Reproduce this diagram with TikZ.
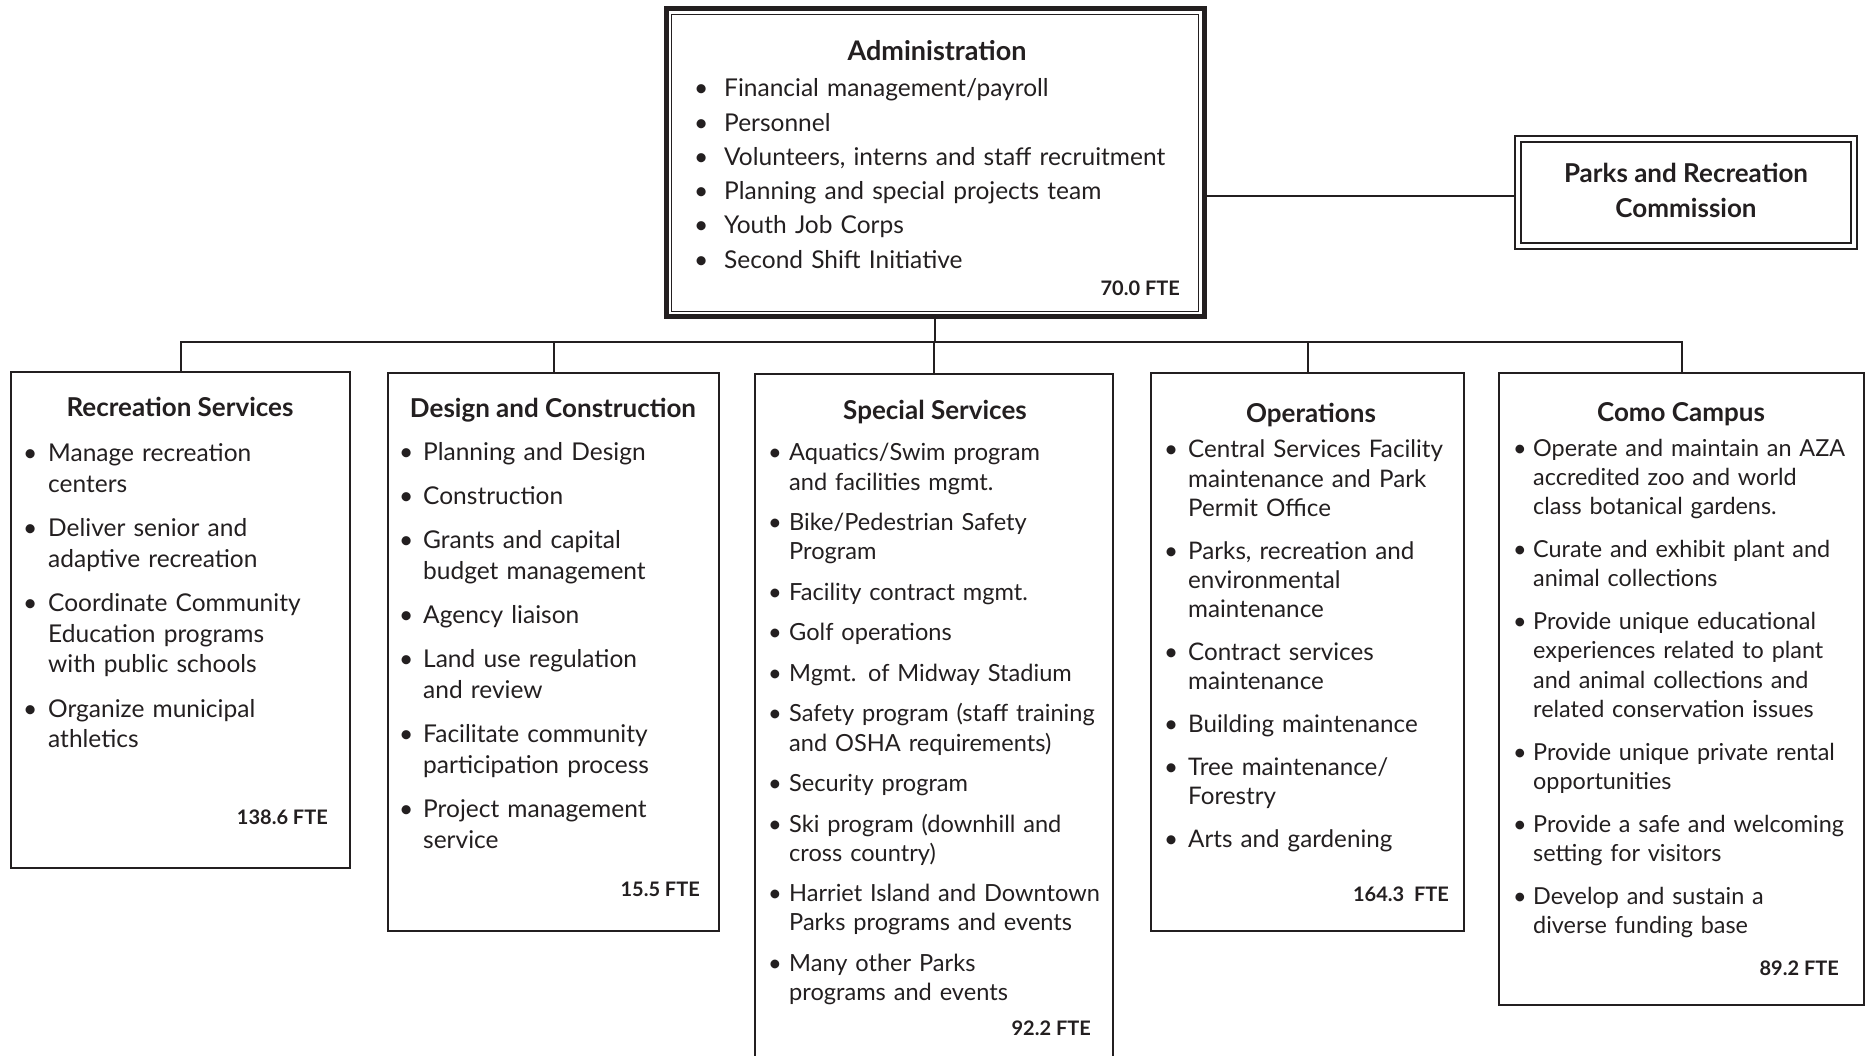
\documentclass[tikz,border=0pt]{standalone}
\usepackage{fontspec}
\setmainfont{Lato}
\usetikzlibrary{calc}

\definecolor{ink}{HTML}{231F20}
\newlength{\itemgap}
\newlength{\bulgap}
\setlength{\bulgap}{24pt}
% One bullet entry of a unit list
\newcommand{\bul}[1]{\par\noindent\llap{\makebox[\bulgap][l]{\textbullet}}#1\par\vspace{\itemgap}}

\tikzset{
  unitbox/.style={draw=ink, line width=2.4pt, inner sep=0pt, anchor=north west},
  thinbox/.style={draw=ink, line width=1.6pt, inner sep=0pt},
  heading/.style={font=\fontsize{26}{31}\selectfont\bfseries, text=ink, anchor=base, inner sep=0pt},
  bullets/.style n args={3}{font=\fontsize{#1}{#2}\selectfont, text=ink, anchor=base west, inner sep=0pt,
    text width=520pt, align=left, execute at begin node={\setlength{\itemgap}{#3}}},
  fte/.style={font=\fontsize{20}{24}\selectfont\bfseries, text=ink, anchor=base east, inner sep=0pt},
  link/.style={draw=ink, line width=2pt}
}

\begin{document}
\begin{tikzpicture}[x=1pt, y=-1pt]
\useasboundingbox (0,0) rectangle (1869,1056);
% Administration box, thick outer frame and thin inner frame
\node[draw=ink, line width=5pt, inner sep=0pt, minimum width=538pt, minimum height=308pt] (admin) at (935,163) {};
\draw[ink, line width=1.8pt] ($(admin.north west)+(8,8)$) rectangle ($(admin.south east)+(-8,-8)$);
\node[heading, font=\fontsize{27}{31}\selectfont\bfseries] (admin-title) at (937,60.5) {Administration};
\node[bullets={24.5}{34.3}{0pt}, execute at begin node={\setlength{\bulgap}{30pt}}] (admin-list) at (724,62.5) {%
  \bul{Financial management/payroll}
  \bul{Personnel}
  \bul{Volunteers, interns and staff recruitment}
  \bul{Planning and special projects team}
  \bul{Youth Job Corps}
  \bul{Second Shift Initiative}};
\node[fte] (admin-fte) at (1180,296) {70.0 FTE};
% Commission box, double thin frame
\node[thinbox, minimum width=342pt, minimum height=113pt] (comm) at (1686,192.5) {};
\draw[ink, line width=1.6pt] ($(comm.north west)+(7,7)$) rectangle ($(comm.south east)+(-7,-7)$);
\node[heading, align=center] (comm-title) at (1686,217.5) {Parks and Recreation\\[4pt]Commission};
% Link admin to commission
\coordinate (comm-in) at (1515,196);
\draw[link] (comm-in) -- (comm-in -| admin.east);
% Unit boxes
\node[unitbox, minimum width=339pt, minimum height=496pt] (rec) at (10,371) {};
\node[unitbox, minimum width=331pt, minimum height=558pt] (design) at (387,372) {};
\node[unitbox, minimum width=358pt, minimum height=700pt] (special) at (754,373) {};
\node[unitbox, minimum width=313pt, minimum height=558pt] (ops) at (1150,372) {};
\node[unitbox, minimum width=365pt, minimum height=632pt] (como) at (1498,372) {};
% Tree connectors
\coordinate (bus) at (935,342);
\draw[link] (admin.south) -- (bus);
\draw[link] (rec.north) |- (bus) -| (como.north);
\foreach \unit in {design,special,ops}
  \draw[link] (\unit.north) -- (\unit.north |- bus);
% Recreation Services
\node[heading] (rec-title) at (180,416.5) {Recreation Services};
\node[bullets={24.5}{30.4}{14.3pt}, execute at begin node={\setlength{\bulgap}{25pt}}] (rec-list) at (48,431.2) {%
  \bul{Manage recreation\newline centers}
  \bul{Deliver senior and\newline adaptive recreation}
  \bul{Coordinate Community\newline Education programs\newline with public schools}
  \bul{Organize municipal\newline athletics}};
\node[fte] (rec-fte) at (328,824) {138.6 FTE};
% Design and Construction
\node[heading] (design-title) at (553,417.5) {Design and Construction};
\node[bullets={24.5}{30.8}{13.2pt}] (design-list) at (423,430.2) {%
  \bul{Planning and Design}
  \bul{Construction}
  \bul{Grants and capital\newline budget management}
  \bul{Agency liaison}
  \bul{Land use regulation\newline and review}
  \bul{Facilitate community\newline participation process}
  \bul{Project management\newline service}};
\node[fte] (design-fte) at (700,896) {15.5 FTE};
% Special Services
\node[heading] (special-title) at (935,419.5) {Special Services};
\node[bullets={23.6}{29.2}{11.3pt}, execute at begin node={\setlength{\bulgap}{21pt}}] (special-list) at (789,431.8) {%
  \bul{Aquatics/Swim program\newline and facilities mgmt.}
  \bul{Bike/Pedestrian Safety\newline Program}
  \bul{Facility contract mgmt.}
  \bul{Golf operations}
  \bul{Mgmt. of Midway Stadium}
  \bul{Safety program (staff training\newline and OSHA requirements)}
  \bul{Security program}
  \bul{Ski program (downhill and\newline cross country)}
  \bul{Harriet Island and Downtown\newline Parks programs and events}
  \bul{Many other Parks\newline programs and events}};
\node[fte] (special-fte) at (1091,1035) {92.2 FTE};
% Operations
\node[heading] (ops-title) at (1311,422.5) {Operations};
\node[bullets={24.2}{29.3}{13.5pt}] (ops-list) at (1188,428.6) {%
  \bul{Central Services Facility\newline maintenance and Park\newline Permit Office}
  \bul{Parks, recreation and\newline environmental\newline maintenance}
  \bul{Contract services\newline maintenance}
  \bul{Building maintenance}
  \bul{Tree maintenance/\newline Forestry}
  \bul{Arts and gardening}};
\node[fte] (ops-fte) at (1449,901) {164.3~~FTE};
% Como Campus
\node[heading] (como-title) at (1681,421.5) {Como Campus};
\node[bullets={23.4}{29.4}{13.2pt}, execute at begin node={\setlength{\bulgap}{20pt}}] (como-list) at (1533,426.8) {%
  \bul{Operate and maintain an AZA\newline accredited zoo and world\newline class botanical gardens.}
  \bul{Curate and exhibit plant and\newline animal collections}
  \bul{Provide unique educational\newline experiences related to plant\newline and animal collections and\newline related conservation issues}
  \bul{Provide unique private rental\newline opportunities}
  \bul{Provide a safe and welcoming\newline setting for visitors}
  \bul{Develop and sustain a\newline diverse funding base}};
\node[fte] (como-fte) at (1839,975) {89.2 FTE};
\end{tikzpicture}
\end{document}
